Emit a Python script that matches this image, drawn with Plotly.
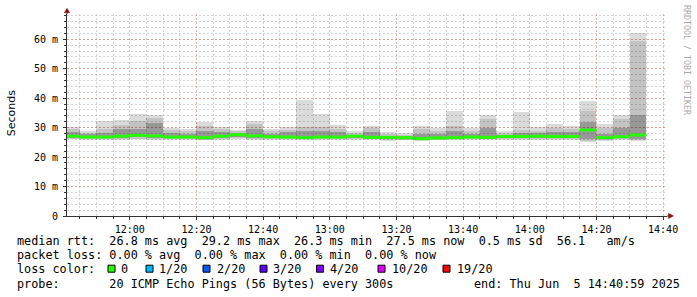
import plotly.graph_objects as go
import pandas as pd

# ---- data (ms), one value per 5-minute step, 11:40 .. 14:30 start ----
bar_start = pd.date_range("2025-06-05 11:40:00", periods=35, freq="5min")
rtt_max = [30.1, 28.8, 32.3, 32.5, 34.5, 34.4, 29.8, 29.4, 31.9, 30.1,
           29.1, 32.3, 29.4, 30.2, 39.5, 34.5, 30.8, 28.8, 30.6, 28.5,
           28.1, 30.5, 29.9, 35.7, 29.8, 34.2, 28.8, 35.3, 30.1, 31.3,
           30.5, 39.0, 31.4, 34.2, 62.3]
rtt_p90 = [29.6, 28.3, 29.5, 31.0, 32.2, 33.3, 29.1, 28.8, 30.5, 29.4,
           28.7, 31.4, 28.8, 29.2, 30.2, 30.2, 29.6, 28.3, 29.8, 27.8,
           27.6, 29.4, 29.0, 30.5, 29.0, 33.0, 28.2, 29.3, 29.0, 29.8,
           29.6, 35.5, 29.8, 33.0, 59.3]
rtt_q3 = [28.5, 27.8, 28.2, 29.5, 29.7, 31.5, 28.2, 28.0, 29.0, 28.4,
          28.2, 29.5, 28.0, 28.4, 28.8, 28.8, 28.4, 27.6, 28.4, 27.2,
          27.1, 27.8, 27.8, 28.8, 28.0, 29.8, 27.6, 28.2, 28.2, 28.5,
          28.4, 31.9, 27.8, 29.8, 34.2]
rtt_median = [27.1, 26.8, 26.8, 27.1, 27.4, 27.2, 26.8, 26.8, 26.6, 27.1,
              27.6, 27.2, 26.9, 26.8, 26.6, 26.8, 26.8, 27.1, 26.7, 26.7,
              26.6, 26.3, 26.5, 26.6, 26.8, 26.7, 27.0, 27.0, 27.1, 27.0,
              27.0, 29.2, 26.6, 26.9, 27.5]
rtt_q1 = [26.6, 26.4, 26.4, 26.5, 26.7, 26.6, 26.4, 26.4, 26.2, 26.6,
          26.9, 26.6, 26.4, 26.4, 26.3, 26.4, 26.4, 26.6, 26.3, 26.2,
          26.2, 26.0, 26.2, 26.3, 26.4, 26.3, 26.6, 26.6, 26.6, 26.5,
          26.5, 26.3, 26.0, 26.4, 26.3]
rtt_p10 = [26.3, 26.1, 26.1, 26.2, 26.3, 26.2, 26.1, 26.1, 25.9, 26.2,
           26.4, 26.2, 26.1, 26.1, 26.0, 26.1, 26.1, 26.2, 26.0, 25.8,
           25.9, 25.8, 25.9, 26.0, 26.1, 26.0, 26.2, 26.2, 26.2, 26.2,
           26.2, 25.6, 25.8, 26.1, 25.9]
rtt_min = [26.0, 25.9, 25.9, 25.9, 26.0, 25.9, 25.9, 25.8, 25.7, 25.9,
           26.0, 25.9, 25.9, 25.8, 25.7, 25.8, 25.8, 25.9, 25.8, 25.5,
           25.7, 25.6, 25.7, 25.8, 25.9, 25.8, 25.9, 25.9, 25.9, 25.9,
           25.9, 25.1, 25.5, 25.8, 25.6]

y_ticks = [0, 10, 20, 30, 40, 50, 60]
y_tick_text = ["0", "10 m", "20 m", "30 m", "40 m", "50 m", "60 m"]

legend_rows = [
    "median rtt:  26.8 ms avg  29.2 ms max  26.3 ms min  27.5 ms now  0.5 ms sd  56.1   am/s",
    "packet loss: 0.00 % avg  0.00 % max  0.00 % min  0.00 % now",
    "loss color:",
    "probe:       20 ICMP Echo Pings (56 Bytes) every 300s",
]
end_text = "end: Thu Jun  5 14:40:59 2025"
loss_labels = ["0", "1/20", "2/20", "3/20", "4/20", "10/20", "19/20"]
loss_colors = ["#26ff00", "#00b8ff", "#0059ff", "#5e00ff", "#7e00ff", "#dd00ff", "#ff0000"]

# ---- layout geometry ----
W, H = 697, 297
ML, MR, MT, MB = 67, 30, 14, 81
PW, PH = W - ML - MR, H - MT - MB


def px(x):
    return (x - ML) / PW


def py(y):
    return (H - MB - y) / PH


MONO = "DejaVu Sans Mono"
fig = go.Figure()

step = pd.Timedelta(minutes=5)
centers = bar_start + step / 2
bands = [
    (rtt_min, rtt_max, "rgba(0,0,0,0.14)"),
    (rtt_p10, rtt_p90, "rgba(0,0,0,0.11)"),
    (rtt_q1, rtt_q3, "rgba(0,0,0,0.22)"),
]
for lo, hi, col in bands:
    fig.add_trace(go.Bar(
        x=centers, y=[h - l for l, h in zip(lo, hi)], base=lo,
        width=300000, marker=dict(color=col, line=dict(width=0)),
        hoverinfo="skip", showlegend=False))

mx, my = [], []
for s, m in zip(bar_start, rtt_median):
    mx += [s, s + step, None]
    my += [m, m, None]
fig.add_trace(go.Scatter(x=mx, y=my, mode="lines",
                         line=dict(color=loss_colors[0], width=3),
                         hoverinfo="skip", showlegend=False))

fig.update_layout(
    width=W, height=H, margin=dict(l=ML, r=MR, t=MT, b=MB),
    paper_bgcolor="white", plot_bgcolor="white",
    barmode="overlay", bargap=0, showlegend=False,
    font=dict(family=MONO, size=10, color="#000"),
)
MAJ = "rgba(230,90,90,0.45)"
MIN = "rgba(170,170,170,0.5)"
fig.update_xaxes(
    type="date", range=["2025-06-05 11:41:10", "2025-06-05 14:41:10"],
    tick0="2025-06-05 12:00:00", dtick=20 * 60 * 1000, tickformat="%H:%M",
    showgrid=True, gridcolor=MAJ, griddash="2px,2px", gridwidth=1,
    ticks="outside", ticklen=3, tickcolor="#333", ticklabelstandoff=1,
    showline=True, linecolor="#333", linewidth=1, zeroline=False,
    tickfont=dict(family=MONO, size=10, color="#000"),
    minor=dict(dtick=5 * 60 * 1000, showgrid=True, gridcolor=MIN,
               griddash="2px,2px", gridwidth=1, ticks="outside", ticklen=2, tickcolor="#333"),
)
fig.update_yaxes(
    range=[0, PH / 2.945], tickvals=y_ticks, ticktext=y_tick_text,
    showgrid=True, gridcolor=MAJ, griddash="2px,2px", gridwidth=1,
    ticks="outside", ticklen=3, tickcolor="#333", ticklabelstandoff=3,
    showline=True, linecolor="#333", linewidth=1, zeroline=False,
    tickfont=dict(family=MONO, size=10, color="#000"),
    minor=dict(dtick=2, showgrid=True, gridcolor=MIN,
               griddash="2px,2px", gridwidth=1, ticks="outside", ticklen=2, tickcolor="#333"),
)

shapes = []
# axis extensions and arrows
shapes.append(dict(type="line", xref="paper", yref="paper", x0=0, x1=0,
                   y0=1, y1=py(11), line=dict(color="#333", width=1)))
shapes.append(dict(type="line", xref="paper", yref="paper", x0=1, x1=px(669),
                   y0=0, y1=0, line=dict(color="#333", width=1)))
shapes.append(dict(type="path", xref="paper", yref="paper",
                   path=f"M {px(64.3)} {py(12.8)} L {px(69.7)} {py(12.8)} L {px(67)} {py(8.3)} Z",
                   fillcolor="#8f1010", line=dict(color="#8f1010", width=0.5)))
shapes.append(dict(type="path", xref="paper", yref="paper",
                   path=f"M {px(668.5)} {py(213.3)} L {px(668.5)} {py(218.5)} L {px(673.5)} {py(215.9)} Z",
                   fillcolor="#8f1010", line=dict(color="#8f1010", width=0.5)))

annotations = []
row_y = [241.3, 255.3, 268.7, 283.7]


def nb(s):
    return s.replace(" ", "\u00a0")


for txt, yy in zip(legend_rows, row_y):
    annotations.append(dict(text=nb(txt), x=px(16), y=py(yy), xref="paper", yref="paper",
                            xanchor="left", yanchor="middle", showarrow=False,
                            font=dict(family=MONO, size=11.8, color="#000"), borderpad=0))
annotations.append(dict(text=nb(end_text), x=px(681), y=py(row_y[3]), xref="paper", yref="paper",
                        xanchor="right", yanchor="middle", showarrow=False,
                        font=dict(family=MONO, size=11.8, color="#000"), borderpad=0))

box_cx = [111.5, 149.5, 206.5, 263.5, 320.0, 381.5, 446.5]
lab_x = [119.5, 158.0, 215.5, 272.0, 328.5, 391.0, 456.0]
for cx, lx, lab, col in zip(box_cx, lab_x, loss_labels, loss_colors):
    shapes.append(dict(type="rect", xref="paper", yref="paper",
                       x0=px(cx - 3.5), x1=px(cx + 3.5), y0=py(row_y[2] - 3.5), y1=py(row_y[2] + 3.5),
                       fillcolor=col, line=dict(color="#000", width=1)))
    annotations.append(dict(text=nb(lab), x=px(lx), y=py(row_y[2]), xref="paper", yref="paper",
                            xanchor="left", yanchor="middle", showarrow=False,
                            font=dict(family=MONO, size=11.8, color="#000"), borderpad=0))

annotations.append(dict(text="Seconds", x=px(11), y=py(113.3), xref="paper", yref="paper",
                        xanchor="center", yanchor="middle", textangle=-90, showarrow=False,
                        font=dict(family="DejaVu Sans", size=11, color="#000")))
annotations.append(dict(text=nb("RRDTOOL / TOBI OETIKER"), x=px(687), y=py(60), xref="paper", yref="paper",
                        xanchor="center", yanchor="middle", textangle=90, showarrow=False,
                        font=dict(family=MONO, size=8.3, color="#aaaaaa")))

fig.update_layout(shapes=shapes, annotations=annotations)
fig.write_html("out.html")
